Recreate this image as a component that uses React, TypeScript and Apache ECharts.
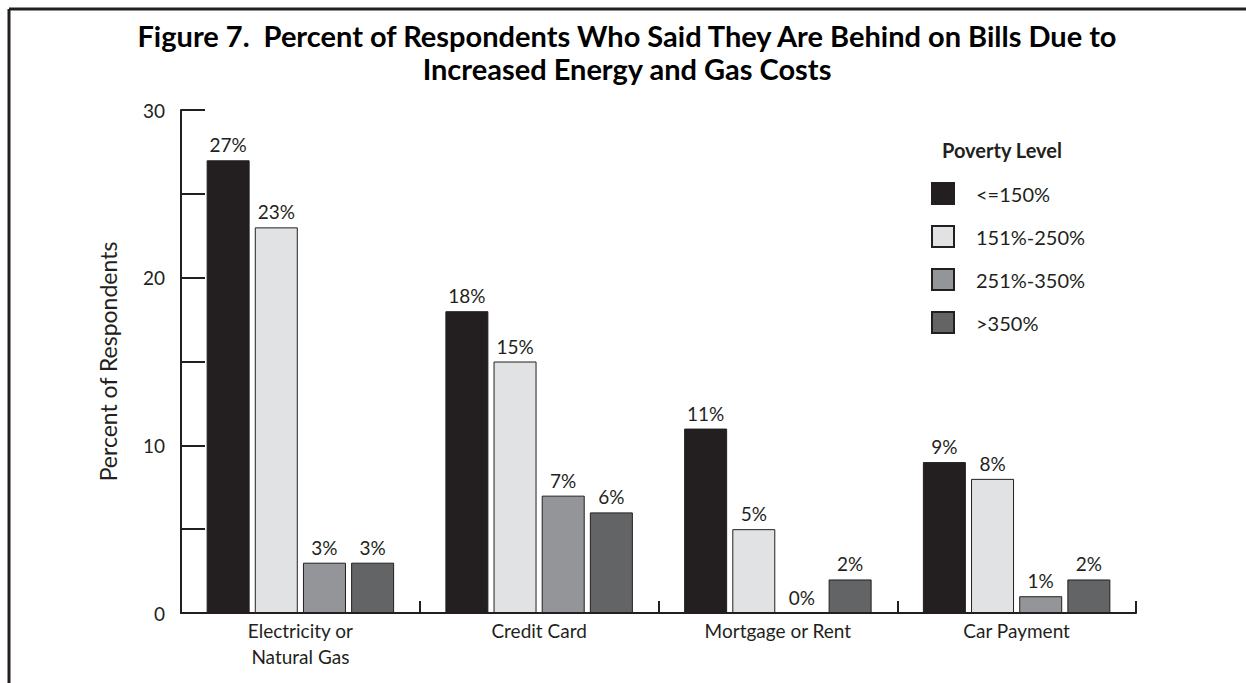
import React, { useEffect, useRef } from "react";
import * as echarts from "echarts";

const categories = ["Electricity or\nNatural Gas", "Credit Card", "Mortgage or Rent", "Car Payment"];
const seriesNames = ["<=150%", "151%-250%", "251%-350%", ">350%"];
const low = [27, 18, 11, 9];
const lowMid = [23, 15, 5, 8];
const highMid = [3, 7, 0, 1];
const high = [3, 6, 2, 2];
const yTicks = [0, 10, 20, 30];
const colors = ["#231f20", "#e1e2e3", "#939598", "#636466"];

const FONT = "Lato";

export default function App() {
  const ref = useRef<HTMLDivElement>(null);
  useEffect(() => {
    if (!ref.current) return;
    const chart = echarts.init(ref.current, undefined, { renderer: "svg" });
    const values = [low, lowMid, highMid, high];
    chart.setOption({
      animation: false,
      backgroundColor: "#ffffff",
      textStyle: { fontFamily: FONT, color: "#231f20" },
      title: [
        {
          text: "Figure 7.  Percent of Respondents Who Said They Are Behind on Bills Due to\nIncreased Energy and Gas Costs",
          left: 622,
          top: 14,
          textAlign: "center",
          textStyle: { fontFamily: FONT, fontWeight: "bold", fontSize: 29, lineHeight: 33, color: "#000000" },
        },
        {
          text: "Poverty Level",
          left: 937,
          top: 135,
          textStyle: { fontFamily: FONT, fontWeight: "bold", fontSize: 20, color: "#231f20" },
        },
      ],
      legend: {
        orient: "vertical",
        left: 926,
        top: 177,
        itemWidth: 22,
        itemHeight: 21,
        itemGap: 20,
        icon: "rect",
        data: seriesNames,
        textStyle: { fontFamily: FONT, fontSize: 20, color: "#231f20", padding: [0, 0, 0, 17] },
      },
      grid: { left: 181, right: 110, top: 110, bottom: 70, containLabel: false },
      xAxis: {
        type: "category",
        data: categories,
        axisLine: { lineStyle: { color: "#231f20", width: 2 } },
        axisTick: { show: true, inside: true, length: 12, alignWithLabel: false, lineStyle: { color: "#231f20", width: 2 } },
        axisLabel: { fontFamily: FONT, fontSize: 19, color: "#231f20", lineHeight: 26, margin: 4, interval: 0 },
      },
      yAxis: {
        type: "value",
        min: 0,
        max: 30,
        interval: 5,
        name: "Percent of Respondents",
        nameLocation: "middle",
        nameGap: 62,
        nameTextStyle: { fontFamily: FONT, fontSize: 23, color: "#231f20" },
        splitLine: { show: false },
        axisLine: { show: true, lineStyle: { color: "#231f20", width: 2 } },
        axisTick: { show: true, inside: true, length: 24, lineStyle: { color: "#231f20", width: 2 } },
        axisLabel: {
          fontFamily: FONT,
          fontSize: 19,
          color: "#231f20",
          margin: 16,
          formatter: (v: number) => (yTicks.includes(v) ? String(v) : ""),
        },
      },
      series: seriesNames.map((name, i) => ({
        name,
        type: "bar",
        data: values[i],
        barWidth: 43,
        barGap: "12%",
        itemStyle: { color: colors[i], borderColor: "#231f20", borderWidth: 1 },
        label: {
          show: true,
          position: "top",
          distance: 6,
          formatter: "{c}%",
          fontFamily: FONT,
          fontSize: 19,
          color: "#231f20",
        },
      })),
      graphic: [
        { type: "line", shape: { x1: 9, y1: 9, x2: 1246, y2: 9 }, style: { stroke: "#231f20", lineWidth: 3 } },
        { type: "line", shape: { x1: 9, y1: 9, x2: 9, y2: 683 }, style: { stroke: "#231f20", lineWidth: 3 } },
      ],
    });
    return () => chart.dispose();
  }, []);
  return <div ref={ref} style={{ position: "fixed", left: 0, top: 0, width: 1246, height: 683 }} />;
}
